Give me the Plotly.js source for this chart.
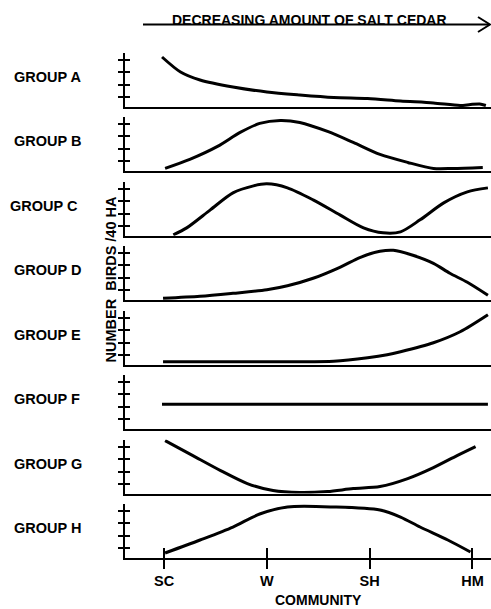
<!DOCTYPE html>
<html>
<head>
<meta charset="utf-8">
<script src="https://cdn.plot.ly/plotly-3.0.1.min.js"></script>
<style>html,body{margin:0;padding:0;background:#fff;}#chart{width:491px;height:609px;}</style>
</head>
<body>
<div id="chart"></div>
<script>
// ---- Data (community position: SC=0, W=1, SH=2, HM=3; relative bird numbers) ----
const communities = ['SC', 'W', 'SH', 'HM'];
const communityPos = [0, 1, 2, 3];
const groupNames = ['GROUP A', 'GROUP B', 'GROUP C', 'GROUP D', 'GROUP E', 'GROUP F', 'GROUP G', 'GROUP H'];
const yTickVals = [10, 22, 35, 47];

const groupA_x = [-0.02, 0.16, 0.35, 0.67, 1.0, 1.32, 1.65, 1.98, 2.30, 2.62, 2.88, 2.98, 3.07, 3.13];
const groupA_y = [50, 35, 27, 20, 15, 12, 9.5, 8.5, 6, 4, 1.5, 2.5, 3, 1.5];
const groupB_x = [0.01, 0.25, 0.52, 0.74, 0.93, 1.13, 1.32, 1.59, 1.84, 2.10, 2.37, 2.62, 2.81, 3.10];
const groupB_y = [3, 12, 25, 39, 48, 51, 49, 40, 29, 17, 9, 3, 3, 4];
const groupC_x = [0.09, 0.22, 0.45, 0.67, 0.87, 1.0, 1.20, 1.45, 1.71, 1.94, 2.13, 2.30, 2.49, 2.72, 2.95, 3.15];
const groupC_y = [1, 8, 26, 43, 50, 52, 48, 36, 21, 8, 3, 4, 16, 33, 44, 48];
const groupD_x = [-0.01, 0.35, 0.67, 1.0, 1.2, 1.45, 1.71, 1.91, 2.10, 2.23, 2.42, 2.62, 2.78, 2.95, 3.15];
const groupD_y = [2, 4, 7, 10.5, 14.5, 22, 33, 43, 49, 50, 45, 37, 27, 18, 5];
const groupE_x = [-0.01, 0.5, 1.0, 1.3, 1.65, 1.98, 2.17, 2.30, 2.62, 2.88, 3.15];
const groupE_y = [3, 3, 3, 3, 3.5, 7, 10, 13, 22, 33, 50];
const groupF_x = [-0.02, 1, 2, 3.15];
const groupF_y = [25, 25, 25, 25];
const groupG_x = [0.01, 0.28, 0.55, 0.81, 1.06, 1.32, 1.59, 1.84, 2.10, 2.37, 2.62, 2.85, 3.03];
const groupG_y = [53, 38, 23, 10, 3, 1, 2, 5, 7, 15, 26, 38, 47];
const groupH_x = [0.01, 0.35, 0.67, 0.93, 1.2, 1.65, 2.10, 2.30, 2.49, 2.76, 2.98];
const groupH_y = [5, 18, 31, 44, 51, 51, 48, 41, 31, 18, 6];

const seriesX = [groupA_x, groupB_x, groupC_x, groupD_x, groupE_x, groupF_x, groupG_x, groupH_x];
const seriesY = [groupA_y, groupB_y, groupC_y, groupD_y, groupE_y, groupF_y, groupG_y, groupH_y];

// ---- Layout geometry ----
const W = 491, H = 609;
const M = {l: 125, r: 0, t: 40, b: 51};
const plotW = W - M.l - M.r, plotH = H - M.t - M.b;
const px2x = px => (px - M.l) / plotW;
const py2y = py => (H - M.b - py) / plotH;
const FONT = {family: 'Liberation Sans, Arial, sans-serif', color: '#000', weight: 'bold'};

const traces = [];
const layout = {
  width: W, height: H, margin: M, showlegend: false,
  paper_bgcolor: '#fff', plot_bgcolor: 'rgba(0,0,0,0)',
  annotations: [], shapes: []
};

for (let i = 0; i < 8; i++) {
  const s = i === 0 ? '' : String(i + 1);
  const baseline = 107 + i * 64.43;
  const dom = [py2y(baseline), py2y(baseline - 54)];
  const last = i === 7;
  layout['xaxis' + s] = {
    range: [-0.38, 3.18], anchor: 'y' + s, domain: [0, 1],
    showline: true, linewidth: 2, linecolor: '#000',
    showgrid: false, zeroline: false, fixedrange: true,
    ticks: last ? 'outside' : '', ticklen: 9, tickwidth: 2, tickcolor: '#000',
    tickvals: communityPos, ticktext: communities,
    showticklabels: last, tickfont: Object.assign({size: 14.5}, FONT)
  };
  layout['yaxis' + s] = {
    domain: dom, range: [0, 54], anchor: 'x' + s,
    showline: true, linewidth: 2, linecolor: '#000',
    ticks: 'outside', ticklen: 5, tickwidth: 2, tickcolor: '#000',
    tickvals: yTickVals, showticklabels: false,
    showgrid: false, zeroline: false, fixedrange: true
  };
  const ov = String(9 + i);
  layout['yaxis' + ov] = {
    overlaying: 'y' + s, anchor: 'x' + s, range: [0, 54], side: 'left',
    showline: false, ticks: 'inside', ticklen: 5, tickwidth: 2, tickcolor: '#000',
    tickvals: yTickVals, showticklabels: false,
    showgrid: false, zeroline: false, fixedrange: true
  };
  traces.push({x: [null], y: [null], xaxis: 'x' + s, yaxis: 'y' + ov, mode: 'lines', hoverinfo: 'skip'});

  traces.push({
    x: seriesX[i], y: seriesY[i], xaxis: 'x' + s, yaxis: 'y' + s,
    mode: 'lines', line: {color: '#000', width: 3, shape: 'spline', smoothing: 0.8},
    hoverinfo: 'skip'
  });

  layout.annotations.push({
    text: groupNames[i], xref: 'paper', yref: 'paper',
    x: px2x(i === 2 ? 8 : 12), y: py2y(baseline - 30), xanchor: 'left', yanchor: 'middle',
    showarrow: false, font: Object.assign({size: 14.5}, FONT)
  });
}

// overlay for bottom x ticks (crossing the axis)
layout['xaxis17'] = {
  overlaying: 'x8', anchor: 'y8', range: [-0.38, 3.18], side: 'bottom',
  showline: false, ticks: 'inside', ticklen: 10, tickwidth: 2, tickcolor: '#000',
  tickvals: communityPos, showticklabels: false, showgrid: false, zeroline: false, fixedrange: true
};
traces.push({x: [null], y: [null], xaxis: 'x17', yaxis: 'y8', mode: 'lines', hoverinfo: 'skip'});

// axis titles
layout.annotations.push({
  text: 'NUMBER  BIRDS /40 HA', xref: 'paper', yref: 'paper',
  x: px2x(110.5), y: py2y(280), xanchor: 'center', yanchor: 'middle', textangle: -90,
  showarrow: false, font: Object.assign({size: 14.5}, FONT)
});
layout.annotations.push({
  text: 'COMMUNITY', xref: 'paper', yref: 'paper',
  x: px2x(318), y: py2y(600), xanchor: 'center', yanchor: 'middle',
  showarrow: false, font: Object.assign({size: 14}, FONT)
});
layout.annotations.push({
  text: 'DECREASING AMOUNT OF SALT CEDAR', xref: 'paper', yref: 'paper',
  x: px2x(309), y: py2y(20), xanchor: 'center', yanchor: 'middle',
  showarrow: false, font: Object.assign({size: 14}, FONT)
});
// top arrow
layout.shapes.push({
  type: 'line', xref: 'paper', yref: 'paper',
  x0: px2x(143), x1: px2x(489), y0: py2y(24.5), y1: py2y(24.5),
  line: {color: '#000', width: 2}
});
layout.shapes.push({
  type: 'path', xref: 'paper', yref: 'paper',
  path: 'M ' + px2x(478) + ' ' + py2y(17) + ' L ' + px2x(490) + ' ' + py2y(24.5) + ' L ' + px2x(478) + ' ' + py2y(32),
  line: {color: '#000', width: 2}
});

Plotly.newPlot('chart', traces, layout, {displayModeBar: false, staticPlot: true});
</script>
</body>
</html>
